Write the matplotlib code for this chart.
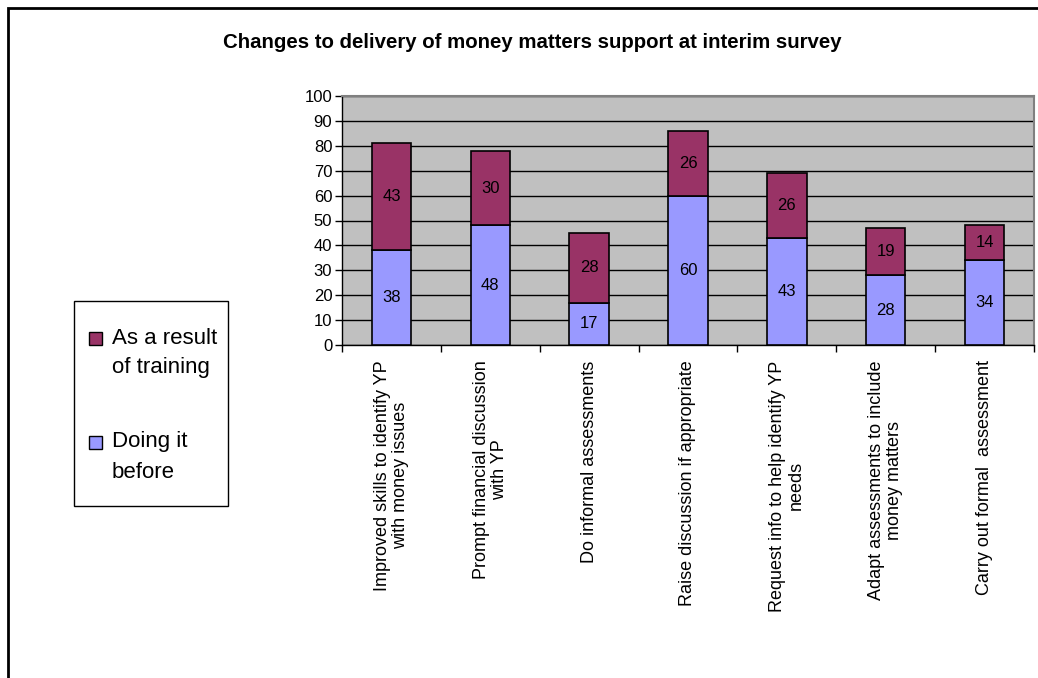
import numpy as np
import matplotlib.pyplot as plt
from matplotlib.patches import Rectangle

plt.rcParams['font.family'] = ['Liberation Sans', 'DejaVu Sans']

categories = [
    "Improved skills to identify YP\nwith money issues",
    "Prompt financial discussion\nwith YP",
    "Do informal assessments",
    "Raise discussion if appropriate",
    "Request info to help identify YP\nneeds",
    "Adapt assessments to include\nmoney matters",
    "Carry out formal  assessment",
]
doing_before = [38, 48, 17, 60, 43, 28, 34]
after_training = [43, 30, 28, 26, 26, 19, 14]
yticks = list(range(0, 101, 10))
legend_labels = ["As a result\nof training", "Doing it\nbefore"]

blue = "#9999FF"
maroon = "#993366"

W, H = 1038, 678


def fx(px):
    return px / W


def fy(py):
    return 1 - py / H


fig = plt.figure(figsize=(W / 100, H / 100), dpi=100)
ax = fig.add_axes([fx(342), fy(345), 692 / W, 249 / H])
ax.set_facecolor("#C0C0C0")

x = np.arange(len(categories))
b1 = ax.bar(x, doing_before, width=0.4, color=blue, edgecolor="black", linewidth=1.2, zorder=3)
b2 = ax.bar(x, after_training, width=0.4, bottom=doing_before, color=maroon,
            edgecolor="black", linewidth=1.2, zorder=3)

for vals, bottoms in [(doing_before, [0] * len(x)), (after_training, doing_before)]:
    for xi, v, b in zip(x, vals, bottoms):
        ax.text(xi, b + v / 2, str(v), ha="center", va="center", fontsize=12, zorder=4)

ax.set_xlim(-0.5, len(categories) - 0.5)
ax.set_ylim(0, 100)
ax.set_yticks(yticks)
ax.tick_params(axis="y", labelsize=12, length=5, width=1, direction="out", pad=2)
ax.yaxis.grid(True, color="black", linewidth=1, zorder=1)
ax.set_axisbelow(True)

# category labels at bar centres, tick marks at category boundaries
ax.set_xticks(x)
ax.set_xticklabels(categories, rotation=90, ha="center", va="top",
                   multialignment="center", fontsize=13, linespacing=1.1)
ax.tick_params(axis="x", which="major", length=0, pad=11)
ax.set_xticks(np.arange(-0.5, len(categories)), minor=True)
ax.tick_params(axis="x", which="minor", length=5, width=1, direction="out")

for side in ["top", "right"]:
    ax.spines[side].set_color("#808080")
    ax.spines[side].set_linewidth(1.5)
for side in ["left", "bottom"]:
    ax.spines[side].set_color("black")
    ax.spines[side].set_linewidth(1)

fig.text(fx(532), fy(42), "Changes to delivery of money matters support at interim survey",
         ha="center", va="center", fontsize=14.7, fontweight="bold")

# legend: boxed, swatch next to the first line of each label
fig.patches.append(Rectangle((fx(74), fy(506)), 154 / W, 205 / H, transform=fig.transFigure,
                             facecolor="white", edgecolor="black", linewidth=1))
for i, (lab, col) in enumerate(zip(legend_labels, [maroon, blue])):
    y0 = 338 + i * 104
    fig.patches.append(Rectangle((fx(89), fy(y0 + 6.5)), 13 / W, 13 / H, transform=fig.transFigure,
                                 facecolor=col, edgecolor="black", linewidth=1))
    for j, line in enumerate(lab.split("\n")):
        fig.text(fx(112), fy(y0 + 30 * j), line, ha="left", va="center", fontsize=16)

# outer chart border (runs off the right and bottom of the image)
fig.patches.append(Rectangle((fx(8), -0.1), 1.2, 1 - 8 / H + 0.1, transform=fig.transFigure,
                             fill=False, edgecolor="black", linewidth=2))

fig.savefig("out.png", dpi=100)
